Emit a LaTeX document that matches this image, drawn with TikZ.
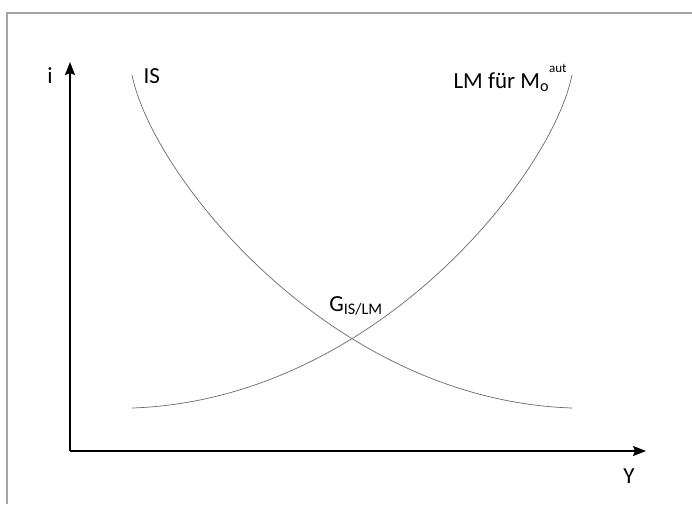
\documentclass[tikz,border=0pt]{standalone}
\usepackage{amsmath}
\usepackage{fontspec}
\setmainfont{Carlito}
\usetikzlibrary{arrows.meta}
\definecolor{frameGray}{RGB}{165,165,165}
\definecolor{curveGray}{RGB}{105,105,105}
\newcommand{\supaut}{\raisebox{0.7em}{\fontsize{13}{14}\selectfont aut}}
\begin{document}
\begin{tikzpicture}[x=1pt, y=-1pt, font=\fontsize{23}{26}\selectfont, AX/.style={-{Stealth[length=13pt,width=10pt,inset=2pt]},line width=1.8pt}, CRV/.style={curveGray,line width=0.7pt}]
    \useasboundingbox (0,0) rectangle (692,504);
    \draw[frameGray, line width=1.5pt] (692,13) -- (7,13) -- (7,504);
    \coordinate (O) at (70,451); \coordinate (itop) at (70,62); \coordinate (yend) at (646,451);
    \draw[AX] (O) -- (itop); \draw[AX] (O) -- (yend);
    \node (ilab) at (50,76) {i};
    \node (ylab) at (629,476) {Y};
    \coordinate (isA) at (132,75); \coordinate (isB) at (572,408);
    \coordinate (lmA) at (132,408); \coordinate (lmB) at (572,75);
    \draw[CRV] (isA) .. controls (152,175) and (330,400) .. (isB);
    \draw[CRV] (lmA) .. controls (374,400) and (552,175) .. (lmB);
    \node[right] (islab) at (140,76) {IS};
    \node[left] (lmlab) at (570,78) {LM für M\textsubscript{o}\supaut};
    \node (glab) at (356,306) {G\textsubscript{IS/LM}};
\end{tikzpicture}
\end{document}
